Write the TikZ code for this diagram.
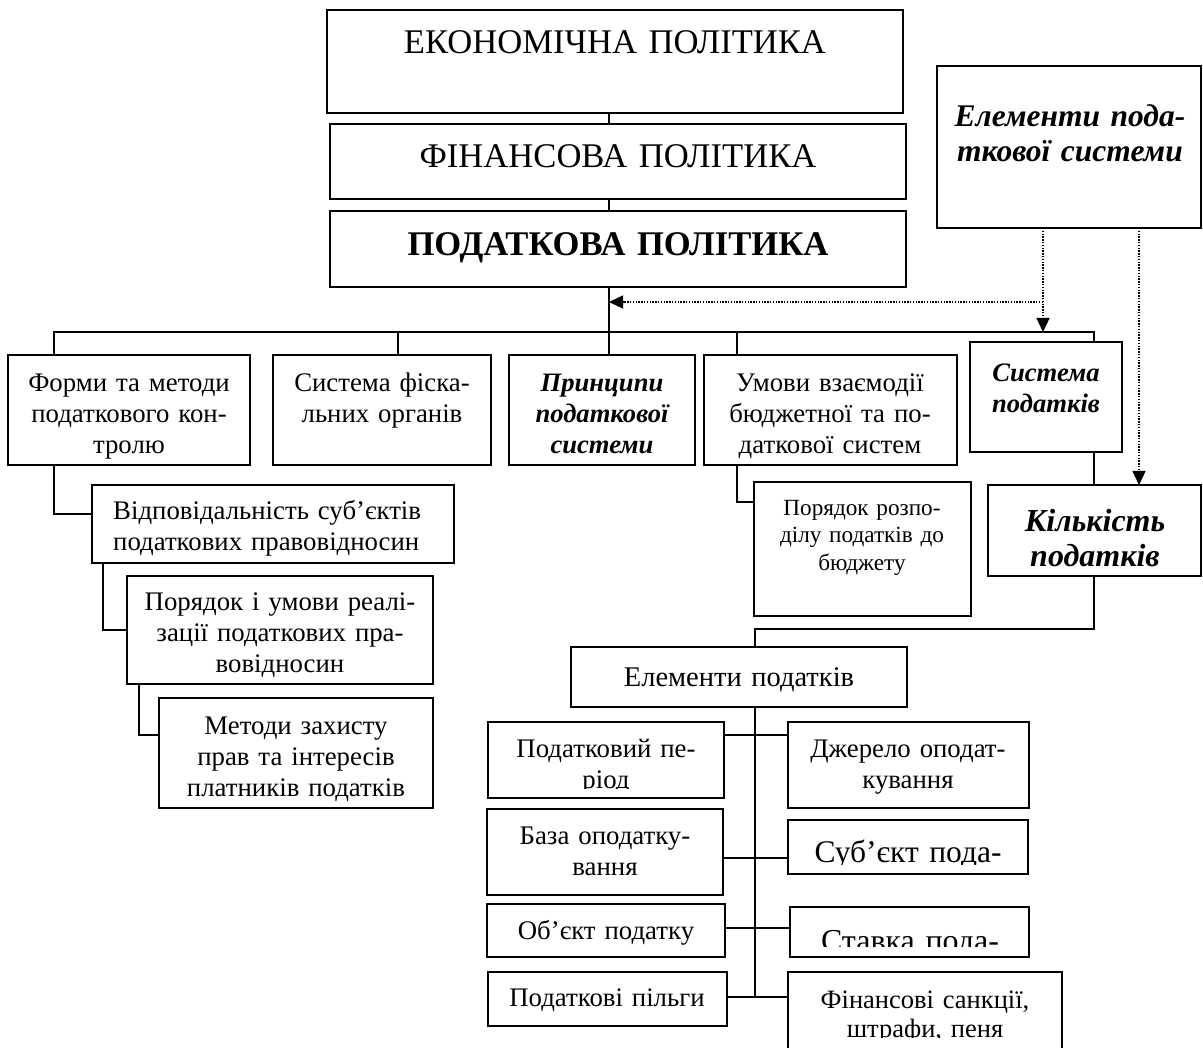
\documentclass[tikz,border=0pt]{standalone}
\usepackage{fontspec}
\setmainfont{Liberation Serif}
\usetikzlibrary{fit,arrows.meta}
\begin{document}
\begin{tikzpicture}[x=1pt,y=-1pt,
 bx/.style={draw,line width=1.6pt,inner sep=0pt,outer sep=0pt},
 ln/.style={line width=1.5pt},
 dt/.style={line width=1.3pt,dash pattern=on 1.4pt off 1.4pt,-{Triangle[length=14pt,width=13pt]}},
 tx/.style={inner sep=0pt,anchor=base,align=center,text width=#1},
 tx/.default=300pt,
 rm/.style={font=\fontsize{26.8}{31}\selectfont},
 bi/.style={font=\fontsize{26.6}{31}\selectfont\bfseries\itshape},
 big/.style={font=\fontsize{34.6}{38}\selectfont},
 bigb/.style={font=\fontsize{34.6}{38}\selectfont\bfseries},
]
\useasboundingbox (0,0) rectangle (1203,1048);
\clip (0,0) rectangle (1203,1048);
% boxes
\node[bx,fit={(327,10)(903,113)}] (econ) {};
\node[bx,fit={(330,124)(906,199)}] (fin) {};
\node[bx,fit={(330,211)(906,287)}] (pod) {};
\node[bx,fit={(937,66)(1201,228)}] (elsys) {};
\node[bx,fit={(8,355)(250,465)}] (forms) {};
\node[bx,fit={(273,355)(491,465)}] (fisc) {};
\node[bx,fit={(509,355)(695,465)}] (princ) {};
\node[bx,fit={(704,355)(957,465)}] (umovy) {};
\node[bx,fit={(970,342)(1122,452)}] (sysp) {};
\node[bx,fit={(988,485)(1201,576)}] (kilk) {};
\node[bx,fit={(92,485)(454,563)}] (vidp) {};
\node[bx,fit={(127,576)(433,684)}] (poriad) {};
\node[bx,fit={(159,698)(433,808)}] (metody) {};
\node[bx,fit={(754,482)(971,616)}] (rozp) {};
\node[bx,fit={(571,647)(907,707)}] (elp) {};
\node[bx,fit={(488,722)(724,798)}] (period) {};
\node[bx,fit={(788,722)(1029,808)}] (dzher) {};
\node[bx,fit={(487,809)(723,895)}] (baza) {};
\node[bx,fit={(788,820)(1028,874)}] (subj) {};
\node[bx,fit={(487,904)(725,957)}] (obj) {};
\node[bx,fit={(790,907)(1029,957)}] (stavka) {};
\node[bx,fit={(488,972)(727,1026)}] (pilg) {};
\node[bx,fit={(788,972)(1062,1075)}] (sankc) {};
% texts
\node[tx=570pt,big] (t1) at (615,54) {ЕКОНОМІЧНА ПОЛІТИКА};
\node[tx=570pt,big] (t2) at (618,168) {ФІНАНСОВА ПОЛІТИКА};
\node[tx=570pt,bigb] (t3) at (618,256) {ПОДАТКОВА ПОЛІТИКА};
\node[tx=260pt,font=\fontsize{31.5}{35}\selectfont\bfseries\itshape] (t4) at (1070,127) {Елементи пода-\\ткової системи};
\node[tx=150pt,bi] (t5) at (1046,382) {Система\\податків};
\node[tx=210pt,font=\fontsize{32}{35}\selectfont\bfseries\itshape] (t6) at (1095,532) {Кількість\\податків};
\node[tx=240pt,rm] (t7) at (129,392) {Форми та методи\\податкового кон-\\тролю};
\node[tx=215pt,rm] (t8) at (382,392) {Система фіска-\\льних органів};
\node[tx=185pt,bi] (t9) at (602,392) {Принципи\\податкової\\системи};
\node[tx=250pt,rm] (t10) at (830,392) {Умови взаємодії\\бюджетної та по-\\даткової систем};
\node[rm,inner sep=0pt,anchor=base west,align=left,text width=330pt] (t11) at (113,520) {\makebox[320pt][s]{Відповідальність суб’єктів}\\податкових правовідносин};
\node[tx=304pt,rm] (t12) at (280,610) {Порядок і умови реалі-\\зації податкових пра-\\вовідносин};
\node[tx=270pt,rm] (t13) at (296,734) {Методи захисту\\прав та інтересів\\платників податків};
\node[tx=215pt,font=\fontsize{23.2}{27.5}\selectfont] (t14) at (862,515) {Порядок розпо-\\ділу податків до\\бюджету};
\node[tx=330pt,font=\fontsize{28.5}{32}\selectfont] (t15) at (739,686) {Елементи податків};
\begin{scope}
\clip (488,722) rectangle (724,788);
\node[tx=235pt,rm] (t16) at (606,757) {Податковий пе-\\ріод};
\end{scope}
\node[tx=240pt,rm] (t17) at (908,757) {Джерело оподат-\\кування};
\node[tx=235pt,rm] (t18) at (605,844) {База оподатку-\\вання};
\begin{scope}
\clip (788,820) rectangle (1028,864);
\node[tx=240pt,font=\fontsize{31.5}{35}\selectfont] (t19) at (908,862) {Суб’єкт пода-};
\end{scope}
\node[tx=237pt,rm] (t20) at (606,939) {Об’єкт податку};
\begin{scope}
\clip (790,907) rectangle (1029,946);
\node[tx=240pt,font=\fontsize{32}{35}\selectfont] (t21) at (910,951) {Ставка пода-};
\end{scope}
\node[tx=238pt,rm] (t22) at (607,1006) {Податкові пільги};
\begin{scope}
\clip (788,972) rectangle (1062,1037);
\node[tx=272pt,font=\fontsize{26.5}{29.5}\selectfont] (t23) at (925,1008) {Фінансові санкції,\\штрафи, пеня};
\end{scope}
% coordinates
\coordinate (xT) at (609,0);
\coordinate (xF) at (54,0);
\coordinate (x2) at (398,0);
\coordinate (x4) at (737,0);
\coordinate (xS) at (1094,0);
\coordinate (xV) at (103,0);
\coordinate (xP) at (139,0);
\coordinate (xE) at (755,0);
\coordinate (xd) at (1043,0);
\coordinate (xr) at (1139,0);
\coordinate (bus) at (0,332);
\coordinate (hK) at (0,629);
\coordinate (hd) at (0,302);
\coordinate (r1) at (0,735);
\coordinate (r2) at (0,858);
\coordinate (r3) at (0,928);
\coordinate (r4) at (0,997);
% connectors
\draw[ln] (econ.south -| xT) -- (fin.north -| xT);
\draw[ln] (fin.south -| xT) -- (pod.north -| xT);
\draw[ln] (pod.south -| xT) -- (princ.north -| xT);
\draw[ln] (forms.north -| xF) -- (xF |- bus) -- (xS |- bus) -- (sysp.north -| xS);
\draw[ln] (fisc.north -| x2) -- (x2 |- bus);
\draw[ln] (umovy.north -| x4) -- (x4 |- bus);
\draw[ln] (forms.south -| xF) |- ([yshift=10pt]vidp.west);
\draw[ln] (vidp.south -| xV) |- (poriad.west);
\draw[ln] (poriad.south -| xP) |- ([yshift=18pt]metody.west);
\draw[ln] (umovy.south -| x4) |- ([yshift=47pt]rozp.west);
\draw[ln] (sysp.south -| xS) -- (kilk.north -| xS);
\draw[ln] (kilk.south -| xS) -- (xS |- hK) -| (elp.north -| xE);
\draw[ln] (elp.south -| xE) -- (xE |- r4);
\draw[ln] (period.east |- r1) -- (dzher.west |- r1);
\draw[ln] (baza.east |- r2) -- (subj.west |- r2);
\draw[ln] (obj.east |- r3) -- (stavka.west |- r3);
\draw[ln] (pilg.east |- r4) -- (sankc.west |- r4);
% dotted arrows
\draw[dt] (elsys.south -| xd) -- (xd |- bus);
\draw[dt] (xd |- hd) -- (xT |- hd);
\draw[dt] (elsys.south -| xr) -- (kilk.north -| xr);
\end{tikzpicture}
\end{document}
